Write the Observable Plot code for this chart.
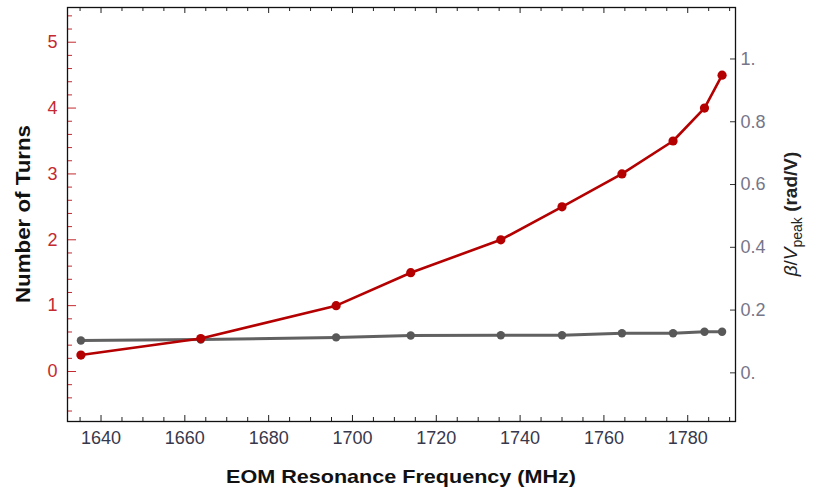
<!DOCTYPE html>
<html>
<head>
<meta charset="utf-8">
<script src="https://cdn.jsdelivr.net/npm/d3@7"></script>
<script src="https://cdn.jsdelivr.net/npm/@observablehq/plot@0.6"></script>
<style>
  html, body { margin: 0; padding: 0; background: #fff; }
  #chart { width: 821px; height: 492px; }
</style>
</head>
<body>
<div id="chart"></div>
<script>
// ---- data ----
const frequencies = [1635.2, 1663.8, 1696.1, 1713.9, 1735.4, 1750.0, 1764.3, 1776.5, 1784.0, 1788.2];
const turns       = [0.25, 0.5, 1, 1.5, 2, 2.5, 3, 3.5, 4, 4.5];
const betaPerV    = [0.103, 0.106, 0.113, 0.119, 0.120, 0.120, 0.126, 0.126, 0.131, 0.131];

const xMajorTicks = [1640, 1660, 1680, 1700, 1720, 1740, 1760, 1780];
const xTickLabels = ["1640", "1660", "1680", "1700", "1720", "1740", "1760", "1780"];
const xMinorTicks = d3.range(1635, 1791, 5).filter(v => v % 20 !== 0);
const leftTicks   = [0, 1, 2, 3, 4, 5];
const leftLabels  = ["0", "1", "2", "3", "4", "5"];
const leftMinor   = d3.range(-6, 55, 2).map(v => v / 10).filter(v => !Number.isInteger(v));
const rightTicks  = [0, 0.2, 0.4, 0.6, 0.8, 1];
const rightLabels = ["0.", "0.2", "0.4", "0.6", "0.8", "1."];

// right axis (β/V) expressed in left-axis units
const xDomain = [1632, 1791.4];
const leftDomain = [-0.759, 5.527];
const rightDomain = [-0.155, 1.164];
const k = (leftDomain[1] - leftDomain[0]) / (rightDomain[1] - rightDomain[0]);
const toLeft = r => leftDomain[0] + (r - rightDomain[0]) * k;

const W = 821, H = 492;
const mL = 67, mR = 86, mT = 7, mB = 71;
const pw = W - mL - mR, ph = H - mT - mB;

const red = "#b40000";
const gray = "#585858";
const redText = "#c42a30";
const rightText = "#767689";
const xText = "#38384c";

const redData = frequencies.map((f, i) => ({f, v: turns[i]}));
const grayData = frequencies.map((f, i) => ({f, v: toLeft(betaPerV[i])}));

const svg = Plot.plot({
  width: W, height: H,
  marginLeft: mL, marginRight: mR, marginTop: mT, marginBottom: mB,
  style: {fontFamily: "'Liberation Sans', Arial, sans-serif", fontSize: "18px", background: "#fff"},
  x: {domain: xDomain},
  y: {domain: leftDomain},
  marks: [
    // inward ticks, bottom
    Plot.tickX(xMajorTicks, {x: d => d, stroke: "#222", insetTop: ph - 6}),
    Plot.tickX(xMinorTicks, {x: d => d, stroke: "#222", insetTop: ph - 4}),
    // inward ticks, top
    Plot.tickX(xMajorTicks, {x: d => d, stroke: "#222", insetBottom: ph - 6}),
    Plot.tickX(xMinorTicks, {x: d => d, stroke: "#222", insetBottom: ph - 4}),
    // left ticks (red)
    Plot.tickY(leftTicks, {y: d => d, stroke: redText, insetRight: pw - 9}),
    Plot.tickY(leftMinor, {y: d => d, stroke: redText, insetRight: pw - 5}),
    // right ticks
    Plot.tickY(rightTicks.map(toLeft), {y: d => d, stroke: "#333", insetLeft: pw - 5}),
    // axes labels
    Plot.axisX(xMajorTicks, {tickSize: 0, tickPadding: 10, label: null, color: xText, fontSize: 18,
      tickFormat: (d, i) => xTickLabels[i]}),
    Plot.axisY(leftTicks, {anchor: "left", tickSize: 0, tickPadding: 10, label: null, color: redText, fontSize: 18,
      tickFormat: (d, i) => leftLabels[i]}),
    Plot.axisY(rightTicks.map(toLeft), {
      anchor: "right", tickSize: 0, tickPadding: 5, label: null, color: rightText, fontSize: 18,
      tickFormat: (d, i) => rightLabels[i]
    }),
    // series
    Plot.line(grayData, {x: "f", y: "v", stroke: gray, strokeWidth: 3, strokeOpacity: 0.95}),
    Plot.dot(grayData, {x: "f", y: "v", r: 4.2, fill: gray}),
    Plot.line(redData, {x: "f", y: "v", stroke: red, strokeWidth: 2.6}),
    Plot.dot(redData, {x: "f", y: "v", r: 4.6, fill: red}),
    Plot.frame({stroke: "#111", strokeWidth: 1.3})
  ]
});

const s = d3.select(svg);
const ff = "'Liberation Sans', Arial, sans-serif";
s.append("text")
  .attr("transform", `translate(${mL + pw / 2},483)`)
  .attr("text-anchor", "middle")
  .attr("font-family", ff).attr("font-weight", "bold").attr("font-size", 19)
  .attr("fill", "#111")
  .attr("textLength", 350).attr("lengthAdjust", "spacingAndGlyphs")
  .text("EOM Resonance Frequency (MHz)");

s.append("text")
  .attr("transform", `translate(30,${mT + ph / 2}) rotate(-90)`)
  .attr("text-anchor", "middle")
  .attr("font-family", ff).attr("font-weight", "bold").attr("font-size", 20)
  .attr("fill", "#111")
  .attr("textLength", 178).attr("lengthAdjust", "spacingAndGlyphs")
  .text("Number of Turns");

const rt = s.append("text")
  .attr("transform", `translate(797,${mT + ph / 2}) rotate(-90)`)
  .attr("text-anchor", "middle")
  .attr("font-family", ff).attr("font-size", 19)
  .attr("fill", "#222");
rt.append("tspan").attr("font-style", "italic").text("β");
rt.append("tspan").text("/");
rt.append("tspan").attr("font-style", "italic").text("V");
rt.append("tspan").attr("font-size", 14).attr("dy", 5).text("peak");
rt.append("tspan").attr("dy", -5).text("\u00a0");
rt.append("tspan").attr("font-weight", "bold").text("(rad/V)");

document.getElementById("chart").appendChild(svg);
</script>
</body>
</html>
